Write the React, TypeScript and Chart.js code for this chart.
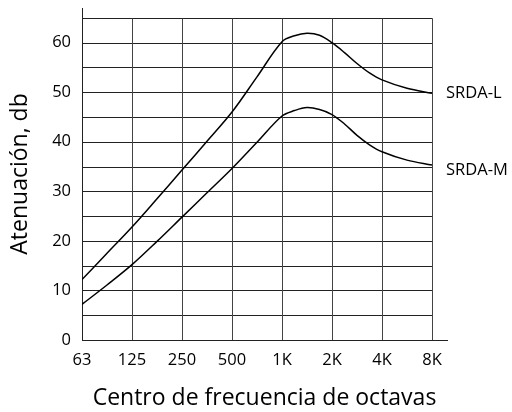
import { useEffect, useRef } from 'react';
import { Chart, registerables } from 'chart.js';

Chart.register(...registerables);

// X categories (octave band centres) – placed at integer positions 0..7
const categories = ['63', '125', '250', '500', '1K', '2K', '4K', '8K'];
// Sample positions along the octave axis (in octave steps from 63 Hz)
const octavePos = [0, 0.5, 1, 1.5, 2, 2.5, 3, 3.5, 4, 4.25, 4.5, 4.75, 5, 5.25, 5.5, 5.75, 6, 6.5, 7];
// Attenuation (dB)
const srdaL = [12.2, 17.5, 22.8, 28.5, 34.3, 40.1, 46, 53.1, 60.2, 61.4, 61.9, 61.5, 60, 58.0, 55.8, 53.9, 52.5, 50.8, 49.8];
const srdaM = [7.2, 11.1, 15.2, 19.9, 24.8, 29.7, 34.6, 39.9, 45.2, 46.3, 46.9, 46.5, 45.5, 43.6, 41.3, 39.4, 38.0, 36.3, 35.3];
const seriesNames = ['SRDA-L', 'SRDA-M'];
// Y axis
const yTickLabels = [0, 10, 20, 30, 40, 50, 60];
const gridStep = 5;
const gridMax = 65;

const FONT = '"Open Sans", sans-serif';

const gridPlugin = {
  id: 'octaveGrid',
  beforeDatasetsDraw(chart: any) {
    const { ctx, scales } = chart;
    const x = scales.x;
    const y = scales.y;
    ctx.save();
    ctx.strokeStyle = '#222';
    ctx.lineWidth = 1;
    const x0 = x.getPixelForValue(0);
    const x1 = Math.round(x.getPixelForValue(categories.length - 1)) + 0.5;
    const yTop = Math.round(y.getPixelForValue(gridMax)) + 0.5;
    const yBot = y.getPixelForValue(0);
    for (let v = gridStep; v <= gridMax; v += gridStep) {
      const py = Math.round(y.getPixelForValue(v)) + 0.5;
      ctx.beginPath();
      ctx.moveTo(x0, py);
      ctx.lineTo(x1, py);
      ctx.stroke();
    }
    ctx.strokeStyle = '#444';
    for (let i = 1; i < categories.length; i++) {
      const px = Math.round(x.getPixelForValue(i)) + 0.5;
      ctx.beginPath();
      ctx.moveTo(px, yBot);
      ctx.lineTo(px, yTop);
      ctx.stroke();
    }
    ctx.restore();
  },
};

const labelPlugin = {
  id: 'seriesLabels',
  afterDatasetsDraw(chart: any) {
    const { ctx, scales } = chart;
    const x = scales.x;
    const y = scales.y;
    const offsets = [0, 5];
    ctx.save();
    ctx.font = `16.5px ${FONT}`;
    ctx.fillStyle = '#000';
    ctx.textAlign = 'left';
    ctx.textBaseline = 'middle';
    chart.data.datasets.forEach((ds: any, i: number) => {
      const last = ds.data[ds.data.length - 1];
      const px = x.getPixelForValue(last.x) + 14;
      const py = y.getPixelForValue(last.y) + offsets[i];
      ctx.fillText(ds.label, px, py);
    });
    ctx.restore();
  },
};

export default function App() {
  const ref = useRef<HTMLCanvasElement>(null);
  useEffect(() => {
    if (!ref.current) return;
    const mk = (name: string, vals: number[]) => ({
      label: name,
      data: octavePos.map((p, i) => ({ x: p, y: vals[i] })),
      borderColor: '#000',
      borderWidth: 1.5,
      pointRadius: 0,
      fill: false,
      tension: 0.35,
    });
    const chart = new Chart(ref.current, {
      type: 'line',
      data: {
        datasets: [mk(seriesNames[0], srdaL), mk(seriesNames[1], srdaM)],
      },
      options: {
        responsive: false,
        animation: false,
        layout: { padding: { top: 8, right: 65, left: 0, bottom: 0 } },
        plugins: { legend: { display: false }, tooltip: { enabled: false } },
        scales: {
          x: {
            type: 'linear',
            min: 0,
            max: 7.3,
            grid: { display: false, drawTicks: false },
            border: { display: true, color: '#222', width: 1 },
            afterBuildTicks: (s: any) => {
              s.ticks = categories.map((_, i) => ({ value: i }));
            },
            afterFit: (s: any) => {
              s.height = 72;
              s.paddingLeft = 0;
              s.paddingRight = 0;
            },
            ticks: {
              autoSkip: false,
              maxRotation: 0,
              padding: 10,
              color: '#000',
              font: { family: FONT, size: 16.5 },
              callback: (v: any) => categories[v as number],
            },
            title: {
              display: true,
              text: 'Centro de frecuencia de octavas',
              color: '#000',
              font: { family: FONT, size: 23 },
              padding: { top: 0, bottom: 0 },
            },
          },
          y: {
            type: 'linear',
            min: 0,
            max: 67,
            grid: { display: false, drawTicks: false },
            border: { display: true, color: '#222', width: 1 },
            afterBuildTicks: (s: any) => {
              s.ticks = yTickLabels.map((v) => ({ value: v }));
            },
            afterFit: (s: any) => {
              s.width = 82;
              s.paddingTop = 0;
              s.paddingBottom = 0;
            },
            ticks: {
              padding: 11,
              color: '#000',
              font: { family: FONT, size: 16.5 },
            },
            title: {
              display: true,
              text: 'Atenuación, db',
              color: '#000',
              font: { family: FONT, size: 23 },
              padding: { top: 7, bottom: 0 },
            },
          },
        },
      },
      plugins: [gridPlugin, labelPlugin],
    });
    return () => chart.destroy();
  }, []);
  return (
    <div style={{ position: 'fixed', left: 0, top: 0, width: 512, height: 412, background: '#fff' }}>
      <canvas ref={ref} width={512} height={412} />
    </div>
  );
}
